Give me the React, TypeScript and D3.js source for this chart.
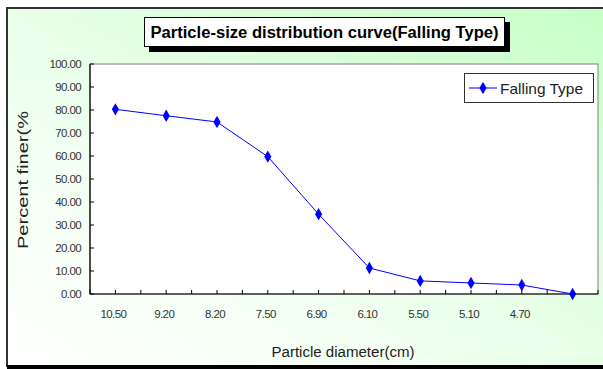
import React from "react";
import * as d3 from "d3";

const categories = ["10.50", "9.20", "8.20", "7.50", "6.90", "6.10", "5.50", "5.10", "4.70", ""];
const percentFiner = [80.3, 77.5, 74.8, 59.7, 34.7, 11.3, 5.7, 4.8, 3.9, 0];
const yTicks = [0, 10, 20, 30, 40, 50, 60, 70, 80, 90, 100];
const seriesName = "Falling Type";
const titleText = "Particle-size distribution curve(Falling Type)";
const xTitle = "Particle diameter(cm)";
const yTitle = "Percent finer(%";

const W = 603;
const H = 369;
const FONT = "'Liberation Sans', Arial, sans-serif";

export default function App() {
  const left = 90, right = 598, top = 64, bottom = 294;
  const x = d3.scaleBand<string>().domain(categories.map((_, i) => String(i))).range([left, right]);
  const y = d3.scaleLinear().domain([0, 100]).range([bottom, top]);
  const cx = (i: number) => (x(String(i)) as number) + x.bandwidth() / 2;
  const line = d3.line<number>().x((_, i) => cx(i)).y((d) => y(d));
  const diamond = d3.symbol().type(d3.symbolDiamond).size(44)() as string;

  const xTickPos: number[] = [];
  categories.forEach((_, i) => {
    xTickPos.push(x(String(i)) as number);
    xTickPos.push(cx(i));
  });
  xTickPos.push(right);

  return (
    <svg width={W} height={H} style={{ position: "absolute", left: 0, top: 0 }} fontFamily={FONT}>
      <defs>
        <linearGradient id="bg" x1="0" y1="1" x2="1" y2="0">
          <stop offset="0" stopColor="#ffffff" />
          <stop offset="0.35" stopColor="#f2fff2" />
          <stop offset="1" stopColor="#c6ffc6" />
        </linearGradient>
      </defs>
      <rect x={0} y={0} width={W} height={H} fill="#ffffff" />
      <rect x={7} y={8} width={W} height={358} fill="url(#bg)" stroke="#333" strokeWidth={2} />
      <rect x={7} y={365} width={W} height={4} fill="#000" />

      {/* Title */}
      <rect x={149} y={22} width={361} height={30} fill="#000" />
      <rect x={144.5} y={17.5} width={360} height={29} fill="#fff" stroke="#000" strokeWidth={1} />
      <text x={324.5} y={38} textAnchor="middle" fontSize={16} fontWeight="bold" fill="#000"
        textLength={348} lengthAdjust="spacingAndGlyphs">{titleText}</text>

      {/* Plot area */}
      <rect x={left} y={top} width={right - left} height={bottom - top} fill="#fff" stroke="#808080" strokeWidth={1} />
      <line x1={left} x2={left} y1={top} y2={bottom} stroke="#000" strokeWidth={1.2} />
      <line x1={left} x2={right} y1={bottom} y2={bottom} stroke="#000" strokeWidth={1.2} />

      {yTicks.map((t) => (
        <g key={t}>
          <line x1={left} x2={left + 4} y1={y(t)} y2={y(t)} stroke="#000" />
          <text x={81} y={y(t) + 4} textAnchor="end" fontSize={11.5} fill="#333" letterSpacing={-0.6}>
            {t.toFixed(2)}
          </text>
        </g>
      ))}

      {xTickPos.map((p, i) => (
        <line key={i} x1={p} x2={p} y1={bottom} y2={bottom - 4} stroke="#000" />
      ))}
      {categories.map((c, i) => (
        <text key={i} x={cx(i) - 2} y={318} textAnchor="middle" fontSize={11.5} fill="#333" letterSpacing={-0.6}>
          {c}
        </text>
      ))}

      <path d={line(percentFiner) as string} fill="none" stroke="#0000ff" strokeWidth={1} />
      {percentFiner.map((v, i) => (
        <path key={i} d={diamond} transform={`translate(${cx(i)},${y(v)})`} fill="#0000ff" />
      ))}

      {/* Axis titles */}
      <text x={343} y={357} textAnchor="middle" fontSize={15.5} fill="#222" textLength={143} lengthAdjust="spacingAndGlyphs">
        {xTitle}
      </text>
      <text transform="translate(28,180) rotate(-90)" textAnchor="middle" fontSize={15.5} fill="#222"
        textLength={138} lengthAdjust="spacingAndGlyphs">
        {yTitle}
      </text>

      {/* Legend */}
      <rect x={464.5} y={73.5} width={129} height={29} fill="#fff" stroke="#333" strokeWidth={1} />
      <line x1={469} x2={497} y1={88} y2={88} stroke="#0000ff" strokeWidth={1} />
      <path d={diamond} transform="translate(483,88)" fill="#0000ff" />
      <text x={500} y={93.5} fontSize={15} fill="#222" textLength={83} lengthAdjust="spacingAndGlyphs">
        {seriesName}
      </text>
    </svg>
  );
}
